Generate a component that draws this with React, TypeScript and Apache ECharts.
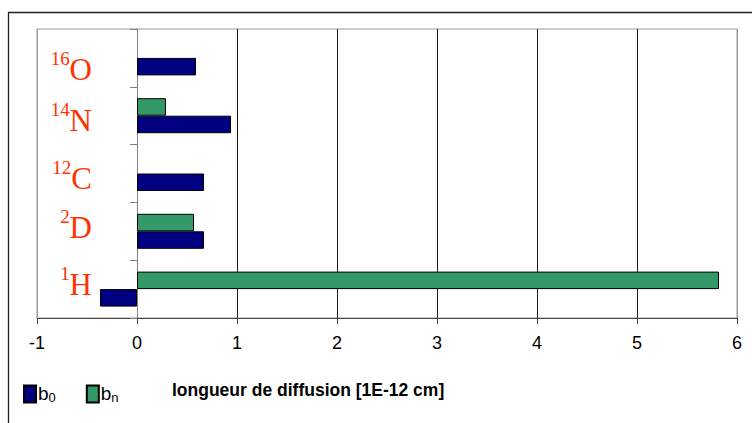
import React, { useEffect, useRef } from "react";
import * as echarts from "echarts";

const masses = ["1", "2", "12", "14", "16"];
const symbols = ["H", "D", "C", "N", "O"];
const b0Values = [-0.37, 0.67, 0.67, 0.94, 0.59];
const bnValues: (number | null)[] = [5.82, 0.57, null, 0.29, null];
const xTicks = [-1, 0, 1, 2, 3, 4, 5, 6];
const seriesNames = ["b0", "bn"];
const axisTitle = "longueur de diffusion [1E-12 cm]";

// label vertical nudges (px, + = down), styling only
const labelNudge = [-7, -6, 2, 2.5, 9];

export default function App() {
  const ref = useRef<HTMLDivElement>(null);
  useEffect(() => {
    if (!ref.current) return;
    const chart = echarts.init(ref.current, null, { renderer: "svg" });
    const splitColors = xTicks.map((t, i) =>
      i === 0 || i === xTicks.length - 1 ? "#9a9a9a" : "#1a1a1a"
    );
    const catData = symbols.map((s, i) => {
      const d = labelNudge[i];
      const padding = d >= 0 ? [2 * d, 0, 0, 0] : [0, 0, -2 * d, 0];
      return { value: s, textStyle: { padding } };
    });
    chart.setOption({
      animation: false,
      backgroundColor: "#ffffff",
      grid: {
        left: 37,
        right: 15,
        top: 29,
        bottom: 105,
        show: true,
        borderColor: "#9a9a9a",
        borderWidth: 1,
        containLabel: false,
        outerBoundsMode: "none",
      },
      title: {
        text: axisTitle,
        left: 172,
        top: 381,
        padding: 0,
        textStyle: {
          fontFamily: "Liberation Sans",
          fontWeight: "bold",
          fontSize: 17.5,
          color: "#000",
        },
      },
      legend: {
        data: seriesNames,
        left: 23,
        top: 384,
        padding: 0,
        itemWidth: 12,
        itemHeight: 17,
        itemGap: 30,
        icon: "rect",
        formatter: (name: string) =>
          name === "b0" ? "{b|b}{s|0}" : "{b|b}{s|n}",
        textStyle: {
          padding: [0, 0, 0, -3],
          rich: {
            b: {
              fontFamily: "Liberation Sans",
              fontSize: 19,
              color: "#000",
              lineHeight: 20,
              verticalAlign: "top",
            },
            s: {
              fontFamily: "Liberation Sans",
              fontSize: 13,
              color: "#000",
              lineHeight: 14,
              verticalAlign: "bottom",
            },
          },
        },
      },
      xAxis: {
        type: "value",
        min: -1,
        max: 6,
        interval: 1,
        axisLine: { show: true, onZero: false, lineStyle: { color: "#444", width: 1 } },
        axisTick: { show: true, length: 6, lineStyle: { color: "#444" } },
        axisLabel: {
          margin: 16,
          fontFamily: "Liberation Sans",
          fontSize: 18,
          color: "#000",
        },
        splitLine: { show: true, lineStyle: { color: splitColors, width: 1 } },
      },
      yAxis: {
        type: "category",
        data: catData,
        axisLine: { show: true, onZero: true, lineStyle: { color: "#808080", width: 1 } },
        axisTick: { show: true, length: 7, lineStyle: { color: "#808080" } },
        axisLabel: {
          margin: -55,
          align: "right",
          formatter: (v: string) => {
            const i = symbols.indexOf(v);
            return "{sup|" + masses[i] + "}{main|" + v + "}";
          },
          rich: {
            sup: {
              fontFamily: "Liberation Serif",
              fontSize: 19,
              color: "#FF3300",
              lineHeight: 12,
              verticalAlign: "top",
            },
            main: {
              fontFamily: "Liberation Serif",
              fontSize: 31,
              color: "#FF3300",
              lineHeight: 36,
              verticalAlign: "bottom",
            },
          },
        },
        splitLine: { show: false },
      },
      series: [
        {
          name: "bn",
          type: "bar",
          data: bnValues,
          barWidth: 17.5,
          barGap: "0%",
          itemStyle: { color: "#339966", borderColor: "#000", borderWidth: 1 },
        },
        {
          name: "b0",
          type: "bar",
          data: b0Values,
          barWidth: 17.5,
          barGap: "0%",
          itemStyle: { color: "#000080", borderColor: "#000", borderWidth: 1 },
        },
      ],
      graphic: [
        {
          type: "line",
          shape: { x1: 8, y1: 12.5, x2: 752, y2: 12.5 },
          style: { stroke: "#222", lineWidth: 1.3 },
        },
        {
          type: "line",
          shape: { x1: 8.5, y1: 12, x2: 8.5, y2: 423 },
          style: { stroke: "#222", lineWidth: 1.3 },
        },
      ],
    });
    return () => chart.dispose();
  }, []);
  return (
    <div
      ref={ref}
      style={{ position: "absolute", left: 0, top: 0, width: 752, height: 423 }}
    />
  );
}
